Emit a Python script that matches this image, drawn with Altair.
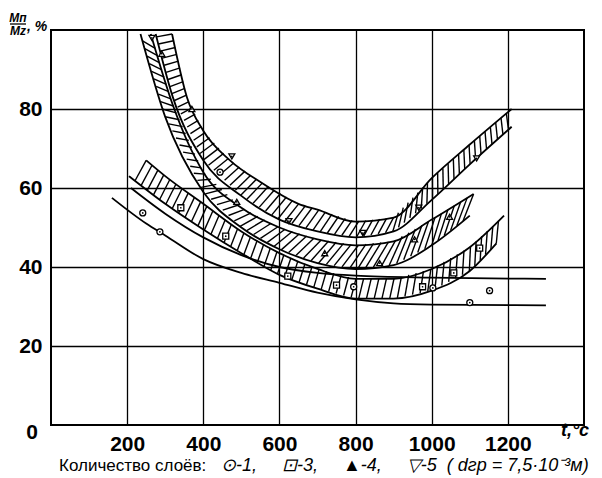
import altair as alt
import numpy as np
import pandas as pd

# ---------------- data: t (°C) vs Mп/Mz (%) ----------------
# band, 5 layers (▽)
b5_up_t = [318, 357, 400, 470, 550, 650, 700, 800, 900, 1000, 1100, 1210]
b5_up_v = [99, 83, 74.5, 67, 61.5, 56, 54.5, 51.5, 52.5, 62.5, 71, 80]
b5_lo_t = [275, 320, 400, 500, 600, 700, 800, 900, 1000, 1100, 1210]
b5_lo_v = [99, 83, 67, 58, 52, 49, 47.5, 49, 57, 66, 75.5]
# band, 4 layers (△)
b4_up_t = [262, 320, 400, 500, 600, 700, 800, 900, 1000, 1110]
b4_up_v = [99, 81, 64, 55, 50, 47, 45.5, 46.5, 52, 58.5]
b4_lo_t = [235, 300, 400, 500, 600, 700, 800, 900, 1000, 1100]
b4_lo_v = [99, 78, 59, 50, 44.5, 41, 39.5, 40.5, 45.5, 53]
# band, 3 layers (□)
b3_up_t = [250, 300, 400, 500, 600, 700, 800, 900, 1000, 1100, 1190]
b3_up_v = [67, 63, 56, 49, 43.5, 39.5, 37, 37, 39.5, 45, 53]
b3_lo_t = [205, 300, 400, 500, 600, 700, 800, 900, 1000, 1100, 1170]
b3_lo_v = [63, 56, 49.5, 43.5, 38, 34.5, 32, 32, 34, 39, 46]
# envelope, 1 layer (○)
l1_up_t = [210, 300, 400, 500, 600, 700, 800, 1000, 1300]
l1_up_v = [60, 53.5, 47.5, 43, 40, 38.5, 37.8, 37.3, 37]
l1_lo_t = [160, 250, 300, 400, 500, 600, 700, 800, 900, 1000, 1300]
l1_lo_v = [57.5, 51, 48, 42, 38.5, 36, 33.5, 31.8, 30.8, 30.5, 30.3]

# experimental points
m1_t = [241, 286, 444, 795, 1003, 1100, 1152]
m1_v = [53.7, 48.9, 64, 35, 34.7, 31, 34]
m3_t = [341, 459, 622, 750, 976, 1058, 1126]
m3_v = [55, 47.8, 37.7, 35.4, 35, 38.5, 44.8]
m4_t = [291, 370, 488, 719, 863, 955, 1047]
m4_v = [94, 80, 56.5, 43.5, 41, 47, 52.7]
m5_t = [265, 475, 625, 819, 966, 1118]
m5_v = [98, 68, 51.6, 48.6, 55, 67.5]

x_ticks = [200, 400, 600, 800, 1000, 1200]
y_ticks = [20, 40, 60, 80]

W, H = 533, 395
XMAX, YMAX = 1400, 100
FONT = "Liberation Sans"

# ---------------- tables ----------------
edges = pd.concat([
    pd.DataFrame({"t": b5_up_t, "v": b5_up_v, "edge": "b5u"}),
    pd.DataFrame({"t": b5_lo_t, "v": b5_lo_v, "edge": "b5l"}),
    pd.DataFrame({"t": b4_up_t, "v": b4_up_v, "edge": "b4u"}),
    pd.DataFrame({"t": b4_lo_t, "v": b4_lo_v, "edge": "b4l"}),
    pd.DataFrame({"t": b3_up_t, "v": b3_up_v, "edge": "b3u"}),
    pd.DataFrame({"t": b3_lo_t, "v": b3_lo_v, "edge": "b3l"}),
    pd.DataFrame({"t": l1_up_t, "v": l1_up_v, "edge": "l1u"}),
    pd.DataFrame({"t": l1_lo_t, "v": l1_lo_v, "edge": "l1l"}),
], ignore_index=True)

points = pd.concat([
    pd.DataFrame({"t": m1_t, "v": m1_v, "layer": "1"}),
    pd.DataFrame({"t": m3_t, "v": m3_v, "layer": "3"}),
    pd.DataFrame({"t": m4_t, "v": m4_v, "layer": "4"}),
    pd.DataFrame({"t": m5_t, "v": m5_v, "layer": "5"}),
], ignore_index=True)


def resample(ts, vs, n=800):
    ts = np.asarray(ts, float)
    vs = np.asarray(vs, float)
    X = ts * W / XMAX
    Y = vs * H / YMAX
    d = np.concatenate([[0.0], np.cumsum(np.hypot(np.diff(X), np.diff(Y)))])
    s = np.linspace(0, d[-1], n)
    return np.interp(s, d, ts), np.interp(s, d, vs), d[-1]


def hatch(up_t, up_v, lo_t, lo_v, spacing, shift):
    ut, uv, L1 = resample(up_t, up_v)
    lt, lv, L2 = resample(lo_t, lo_v)
    p = np.linspace(0, 1, len(ut))
    n = int((L1 + L2) / 2 / spacing)
    fr = np.linspace(0, 1, n)
    q = fr + shift
    keep = (q >= 0) & (q <= 1)
    fr, q = fr[keep], q[keep]
    return pd.DataFrame({
        "t": np.interp(fr, p, ut), "v": np.interp(fr, p, uv),
        "t2": np.interp(q, p, lt), "v2": np.interp(q, p, lv),
    })


hatches = pd.concat([
    hatch(b5_up_t, b5_up_v, b5_lo_t, b5_lo_v, 7.0, 0.006),
    hatch(b4_up_t, b4_up_v, b4_lo_t, b4_lo_v, 7.5, -0.018),
    hatch(b3_up_t, b3_up_v, b3_lo_t, b3_lo_v, 7.5, 0.018),
], ignore_index=True)

# ---------------- encodings ----------------
x_axis = alt.Axis(values=x_ticks, title=None, grid=True, labelPadding=8,
                  labelOverlap=False, format="d")
y_axis = alt.Axis(values=y_ticks, title=None, grid=True, labelPadding=9,
                  labelOverlap=False, format="d")
xs = alt.Scale(domain=[0, XMAX], nice=False, zero=False)
ys = alt.Scale(domain=[0, YMAX], nice=False, zero=False)


def X():
    return alt.X("t:Q", scale=xs, axis=x_axis)


def Y():
    return alt.Y("v:Q", scale=ys, axis=y_axis)


lines = alt.Chart(edges).mark_line(color="black", strokeWidth=1.8,
                                   interpolate="monotone").encode(
    x=X(), y=Y(), detail="edge:N", order="t:Q")

hatch_layer = alt.Chart(hatches).mark_rule(color="black", strokeWidth=1.4).encode(
    x=X(), y=Y(), x2="t2:Q", y2="v2:Q")

pts = alt.Chart(points).mark_point(filled=True, fill="white", stroke="black",
                                   strokeWidth=1.3, size=36, opacity=1,
                                   fillOpacity=1, strokeOpacity=1).encode(
    x=X(), y=Y(),
    shape=alt.Shape("layer:N", legend=None,
                    scale=alt.Scale(domain=["1", "3", "4", "5"],
                                    range=["circle", "square", "triangle-up", "triangle-down"])))
dots = alt.Chart(points).mark_circle(color="black", size=3, opacity=1).encode(
    x=X(), y=Y())


def label(txt, x, y, size, style="normal", weight="normal", align="center",
          baseline="middle", font=FONT):
    return alt.Chart(pd.DataFrame({"txt": [txt]})).mark_text(
        fontSize=size, fontStyle=style, fontWeight=weight, align=align,
        baseline=baseline, font=font, color="black").encode(
        x=alt.value(x), y=alt.value(y), text="txt:N")


frac_line = alt.Chart(pd.DataFrame({"a": [0]})).mark_rule(
    color="black", strokeWidth=1.3).encode(
    x=alt.value(-41), x2=alt.value(-25), y=alt.value(-6))

NB = "\u00a0"
caption2 = ("⊙-1," + NB * 5 + "⊡-3," + NB * 5 + "▲-4," + NB * 5 + "▽-5" + NB * 2
            + "(" + NB + "dгр" + NB + "=" + NB + "7,5·10⁻³м)")

texts = [
    label("0", -19, 403, 21, weight="bold"),
    label("Mп", -33, -12, 12, style="italic", weight="bold"),
    label("Mz", -33, 1, 12, style="italic", weight="bold"),
    label(", %", -24, -3, 14, style="italic", weight="bold", align="left"),
    label("t,°c", 524, 401, 18, style="italic", weight="bold"),
    label("Количество слоёв:", 8, 436, 17, align="left"),
    label(caption2, 170, 436, 18, style="italic", align="left"),
]

chart = alt.layer(hatch_layer, lines, pts, dots, frac_line, *texts).properties(
    width=W, height=H,
    padding={"left": 43, "top": 22, "right": 8, "bottom": 52},
    autosize=alt.AutoSizeParams(type="none"),
).configure_view(
    stroke="black", strokeWidth=2
).configure_axis(
    gridColor="black", gridOpacity=1, gridWidth=1.3, domain=False, ticks=False,
    labelFont=FONT, labelFontSize=21, labelFontWeight="bold", labelColor="black",
)

chart.save("out.html", embed_options={"renderer": "svg", "actions": False})
